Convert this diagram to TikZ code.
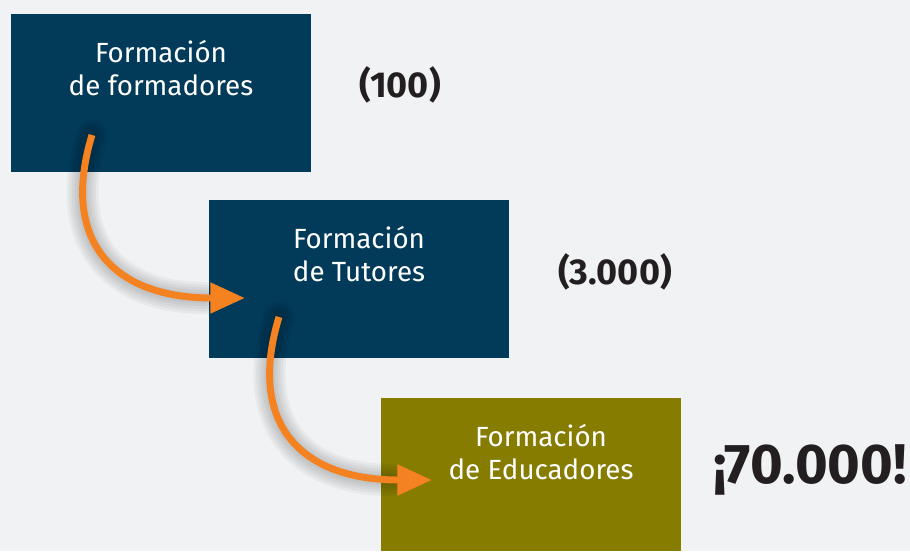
\documentclass[tikz,border=0pt]{standalone}
\usepackage{fontspec}
\setmainfont{Fira Sans}
\usetikzlibrary{arrows.meta,calc}
\definecolor{bg}{HTML}{F1F2F4}
\definecolor{navy}{HTML}{023B59}
\definecolor{olive}{HTML}{857C00}
\definecolor{orng}{HTML}{F58220}
\definecolor{ink}{HTML}{231F20}
\tikzset{
  box/.style={fill=#1, draw=none, minimum width=225pt, minimum height=118.5pt, anchor=north west, inner sep=0pt},
  boxtxt/.style={text=white, align=center, font=\fontsize{20.8}{24.5}\selectfont},
  count/.style={text=ink, font=\bfseries\fontsize{27}{30}\selectfont},
  arr/.style={draw=orng, line width=5.2pt, -{Triangle[length=26pt,width=22pt]}},
  shd/.style={draw=black, line width=#1, opacity=0.04, line cap=round}
}
\begin{document}
\begin{tikzpicture}[x=0.75pt,y=-0.75pt]
\fill[bg] (0,0) rectangle (910,551);
\useasboundingbox (0,0) rectangle (910,551);
\node[box=navy] (b1) at (11,14) {};
\node[box=navy] (b2) at (209,200) {};
\node[box=olive, minimum height=114.75pt] (b3) at (381,398) {};
\node[boxtxt] (t1) at (161,68) {Formación\\de formadores};
\node[boxtxt] (t2) at (359,254) {Formación\\de Tutores};
\node[boxtxt] (t3) at (541,452) {Formación\\de Educadores};
\node[count] (n1) at (400,85) {(100)};
\node[count] (n2) at (615,272) {(3.000)};
\node[count, font=\bfseries\fontsize{42}{46}\selectfont] (n3) at (810,470) {¡70.000!};
\coordinate (s1) at (92,135);
\coordinate (e1) at (245,298);
\coordinate (s2) at (279,317);
\coordinate (e2) at (432,480);
% shadows
\foreach \s/\e in {s1/e1,s2/e2}{
  \foreach \w in {24,20,16,12,8}{
    \draw[shd=\w pt, shift={(10,9)}] (\s) .. controls ($(\s)+(-32,105)$) and ($(\s)+(20,163)$) .. ($(\e)+(-40,0)$);
  }
}
\draw[arr] (s1) .. controls ($(s1)+(-32,105)$) and ($(s1)+(20,163)$) .. (e1);
\draw[arr] (s2) .. controls ($(s2)+(-32,105)$) and ($(s2)+(20,163)$) .. (e2);
\end{tikzpicture}
\end{document}
